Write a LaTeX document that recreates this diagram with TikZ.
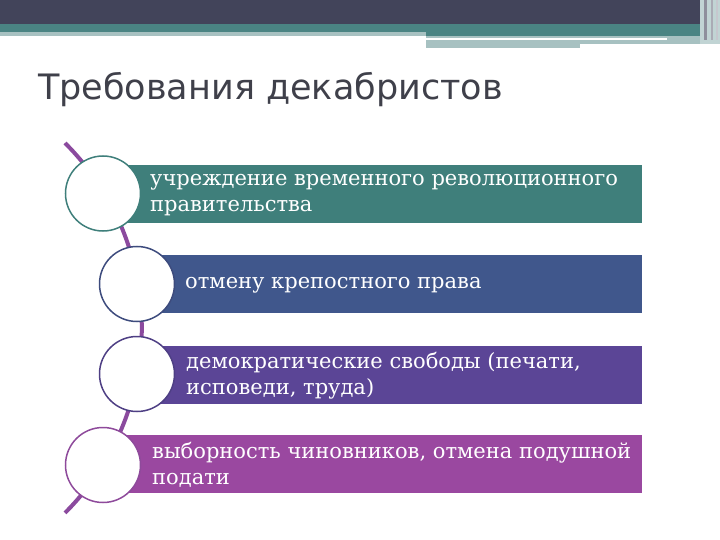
\documentclass[tikz,border=0pt]{standalone}
\usepackage{fontspec}
\setmainfont{DejaVu Serif}
\newfontfamily\titlefont{DejaVu Sans}
\definecolor{headdark}{HTML}{42445A}
\definecolor{headteal}{HTML}{4A8483}
\definecolor{headlight}{HTML}{A7C1C1}
\definecolor{barA}{HTML}{3F7F7B}
\definecolor{barB}{HTML}{40578C}
\definecolor{barC}{HTML}{5B4596}
\definecolor{barD}{HTML}{9A48A0}
\definecolor{ringB}{HTML}{3D4B7D}
\definecolor{ringC}{HTML}{4E3F84}
\definecolor{ringD}{HTML}{8E4A9B}
\definecolor{spinec}{HTML}{8B4A9E}
\definecolor{titlec}{HTML}{3F404A}
\tikzset{
  ring/.style={circle, fill=white, line width=1.5pt, minimum size=75pt, inner sep=0pt},
  itemtext/.style={anchor=west, inner sep=0pt, align=left, text=white,
    font=\fontsize{21}{26}\selectfont},
}
\begin{document}
\begin{tikzpicture}[x=1pt,y=1pt,yscale=-1,xscale=1]
\useasboundingbox (0,0) rectangle (720,540);
% header bands
\fill[headdark] (0,0) rectangle (720,24);
\fill[headteal] (0,24) rectangle (426,32);
\fill[headlight] (0,32) rectangle (426,36);
\fill[headteal] (426,24) rectangle (700,36);
\fill[headlight] (426,36) rectangle (700,44);
\fill[white] (426,38.5) rectangle (667,40.5);
\fill[headlight] (426,44) rectangle (580,48);
\fill[headlight!70] (700,0) rectangle (720,44);
\fill[headdark!60] (704,0) rectangle (707,40);
\fill[headdark!45] (711,0) rectangle (713,40);
\fill[headdark!30] (716,0) rectangle (718,40);
% title
\node[anchor=base west, inner sep=0pt, text=titlec, font=\titlefont\fontsize{35}{40}\selectfont] (title) at (38,99.5) {Требования декабристов};
% bars
\fill[barA] (103,165) rectangle (642,223);
\fill[barB] (137,255) rectangle (642,313);
\fill[barC] (137,346) rectangle (642,404);
\fill[barD] (103,435) rectangle (642,493);
% spine
\coordinate (arctop) at (65,143);
\draw[spinec, line width=4pt] (arctop) arc[start angle=-45.1, end angle=45.1, radius=261.1];
% circles
\node[ring, draw=barA] (c1) at (103,193.5) {};
\node[ring, draw=ringB] (c2) at (137,284) {};
\node[ring, draw=ringC] (c3) at (137,374) {};
\node[ring, draw=ringD] (c4) at (103,465) {};
% texts
\node[itemtext] (t1) at (150,195) {учреждение временного революционного\\правительства};
\node[itemtext] (t2) at (185,285) {отмену крепостного права};
\node[itemtext] (t3) at (186,376) {демократические свободы (печати,\\исповеди, труда)};
\node[itemtext] (t4) at (152,465) {выборность чиновников, отмена подушной\\подати};
\end{tikzpicture}
\end{document}
